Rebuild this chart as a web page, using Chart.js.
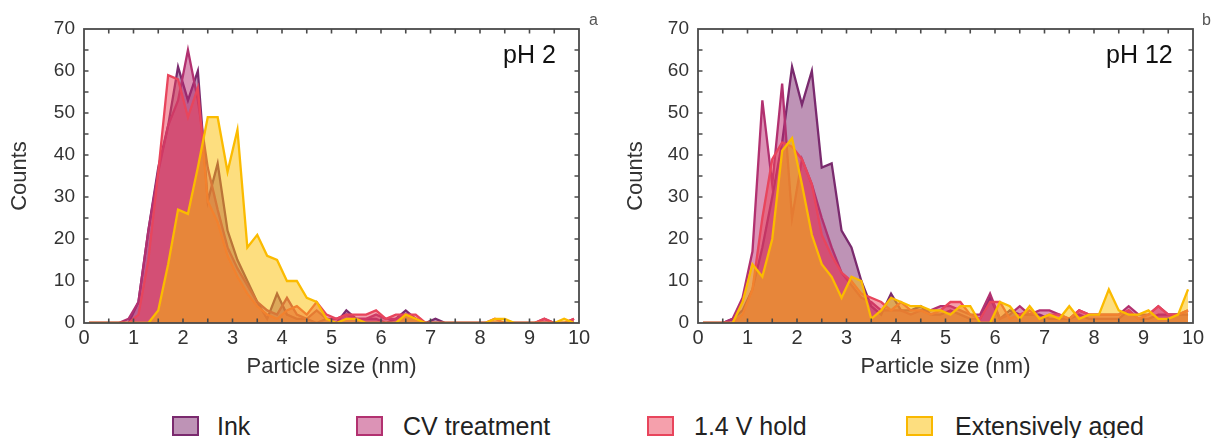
<!DOCTYPE html>
<html>
<head>
<meta charset="utf-8">
<script src="https://cdn.jsdelivr.net/npm/chart.js@4/dist/chart.umd.min.js"></script>
<style>
  html, body { margin: 0; padding: 0; background: #fff; width: 1211px; height: 438px; overflow: hidden; }
  body { position: relative; font-family: 'Liberation Sans', Arial, sans-serif; color: #2b2b2b; }
  .cv { position: absolute; top: 0; }
  .lbl { position: absolute; white-space: nowrap; line-height: 1; }
  .sw { position: absolute; top: 416px; width: 27px; height: 20px; box-sizing: border-box; border: 2px solid; }
  .lt { position: absolute; top: 414px; font-size: 25px; line-height: 1; white-space: nowrap; color: #222; }
</style>
</head>
<body>
<div class="cv" style="left:0;width:600px;height:390px;"><canvas id="cA" width="600" height="390"></canvas></div>
<div class="cv" style="left:614px;width:597px;height:390px;"><canvas id="cB" width="597" height="390"></canvas></div>

<div class="lbl" style="left:503px;top:42px;font-size:25px;color:#111;">pH 2</div>
<div class="lbl" style="left:1106px;top:42px;font-size:25px;color:#111;">pH 12</div>
<div class="lbl" style="left:589px;top:12px;font-size:16px;color:#555;">a</div>
<div class="lbl" style="left:1202px;top:12px;font-size:16px;color:#555;">b</div>

<div class="sw" style="left:172px;background:rgba(125,40,110,0.5);border-color:#7a2a6e;"></div>
<div class="lt" style="left:217px;">Ink</div>
<div class="sw" style="left:356px;background:rgba(185,40,110,0.5);border-color:#b23170;"></div>
<div class="lt" style="left:403px;">CV treatment</div>
<div class="sw" style="left:647px;background:rgba(235,65,90,0.5);border-color:#e8455c;"></div>
<div class="lt" style="left:694px;">1.4 V hold</div>
<div class="sw" style="left:906px;background:rgba(252,190,0,0.5);border-color:#f9b800;"></div>
<div class="lt" style="left:955px;">Extensively aged</div>

<script>
// Bin centres (nm)
const sizes = [0.1,0.3,0.5,0.7,0.9,1.1,1.3,1.5,1.7,1.9,2.1,2.3,2.5,2.7,2.9,3.1,3.3,3.5,3.7,3.9,
               4.1,4.3,4.5,4.7,4.9,5.1,5.3,5.5,5.7,5.9,6.1,6.3,6.5,6.7,6.9,7.1,7.3,7.5,7.7,7.9,
               8.1,8.3,8.5,8.7,8.9,9.1,9.3,9.5,9.7,9.9];

// pH 2 (panel a)
const inkA = [0,0,0,0,0,5,22,37,47,61,53,60,29,38,22,15,10,5,1,7,
              2,1,1,0,1,0,3,1,1,1,0,1,3,1,0,1,0,0,0,0,
              0,0,0,0,0,0,0,0,0,0];
const cvA  = [0,0,0,0,1,5,22,36,47,53,65,53,37,27,18,13,9,5,3,2,
              6,2,1,3,1,1,2,1,1,2,1,1,2,1,0,0,0,0,0,0,
              0,0,0,0,0,0,1,0,0,1];
const holdA = [0,0,0,0,0,2,15,36,59,58,49,56,29,24,16,11,7,4,2,1,
               3,4,2,5,2,1,2,2,2,3,1,2,2,2,0,0,0,0,0,0,
               0,1,0,0,0,0,1,0,0,1];
const agedA = [0,0,0,0,0,0,0,3,14,27,26,37,49,49,36,46,18,21,16,15,
               10,10,6,5,1,0,1,1,0,0,0,0,2,1,0,0,0,0,0,0,
               0,1,1,0,0,0,0,0,1,0];

// pH 12 (panel b)
const inkB = [0,0,0,1,3,8,18,30,43,61,52,60,37,38,22,18,10,4,2,7,
              3,3,4,2,2,3,2,1,1,6,1,3,2,2,2,1,1,1,2,1,
              1,1,1,3,1,1,2,2,2,2];
const cvB  = [0,0,0,1,6,17,53,33,57,25,39,33,25,18,12,9,6,5,3,3,
              3,2,3,3,4,4,3,2,2,7,1,2,4,2,3,3,2,1,3,2,
              2,2,2,4,2,2,4,2,2,3];
const holdB = [0,0,0,0,2,8,25,39,43,42,39,33,21,16,12,10,7,6,5,3,
               5,3,3,2,3,5,5,2,1,5,5,1,2,3,1,2,2,1,3,2,
               2,2,2,3,1,2,4,2,2,3];
const agedB = [0,0,0,0,5,14,11,20,41,44,33,21,14,11,6,11,10,1,3,6,
               5,4,4,3,3,2,4,4,0,0,5,4,1,4,1,2,1,4,1,2,
               2,8,3,2,2,3,1,1,2,8];

const seriesNames = ['Ink', 'CV treatment', '1.4 V hold', 'Extensively aged'];
const xTickLabels = [0,1,2,3,4,5,6,7,8,9,10];
const yTickLabels = [0,10,20,30,40,50,60,70];
const xMinor = [0.5,1,1.5,2,2.5,3,3.5,4,4.5,5,5.5,6,6.5,7,7.5,8,8.5,9,9.5];
const yMinor = [5,10,15,20,25,30,35,40,45,50,55,60,65];

const borderCols = ['#7a2a6e', '#b23170', '#e8455c', '#fbbb00'];
const fillCols = ['rgba(125,40,110,0.5)', 'rgba(185,40,110,0.5)', 'rgba(235,65,90,0.5)', 'rgba(252,190,0,0.5)'];
const FONT = "'Liberation Sans', Arial, sans-serif";

const framePlugin = {
  id: 'frame',
  afterDatasetsDraw(chart) {
    const { ctx, chartArea: a, scales: { x, y } } = chart;
    ctx.save();
    ctx.strokeStyle = '#4a4a4a';
    ctx.lineWidth = 1.6;
    ctx.beginPath();
    xMinor.forEach(v => {
      const p = x.getPixelForValue(v);
      ctx.moveTo(p, a.bottom); ctx.lineTo(p, a.bottom - 4.5);
      ctx.moveTo(p, a.top); ctx.lineTo(p, a.top + 4.5);
    });
    yMinor.forEach(v => {
      const p = y.getPixelForValue(v);
      ctx.moveTo(a.left, p); ctx.lineTo(a.left + 4.5, p);
      ctx.moveTo(a.right, p); ctx.lineTo(a.right - 4.5, p);
    });
    ctx.stroke();
    ctx.lineWidth = 1.8;
    ctx.strokeRect(a.left, a.top, a.right - a.left, a.bottom - a.top);
    ctx.restore();
  }
};

function makeChart(id, values, padTitle, padRight) {
  const datasets = values.map((vals, i) => ({
    label: seriesNames[i],
    data: sizes.map((s, k) => ({ x: s, y: vals[k] })),
    borderColor: borderCols[i],
    backgroundColor: fillCols[i],
    borderWidth: 2.3,
    fill: 'origin',
    pointRadius: 0,
    tension: 0,
    order: 3 - i
  }));
  return new Chart(document.getElementById(id), {
    type: 'line',
    data: { datasets },
    plugins: [framePlugin],
    options: {
      responsive: false,
      animation: false,
      events: [],
      layout: { padding: { top: 29, right: padRight, left: 0, bottom: 0 } },
      plugins: {
        legend: { display: false },
        tooltip: { enabled: false },
        filler: { drawTime: 'beforeDatasetDraw' }
      },
      scales: {
        x: {
          type: 'linear', min: 0, max: 10,
          afterBuildTicks: s => { s.ticks = xTickLabels.map(v => ({ value: v })); },
          afterFit: s => { s.height = 67; },
          grid: { display: false, drawTicks: false },
          border: { display: false },
          ticks: { color: '#333', font: { family: FONT, size: 20 }, padding: 3, maxRotation: 0 },
          title: { display: true, text: 'Particle size (nm)', color: '#333', font: { family: FONT, size: 22 }, padding: { top: 0, bottom: 10 } }
        },
        y: {
          type: 'linear', min: 0, max: 70,
          afterBuildTicks: s => { s.ticks = yTickLabels.map(v => ({ value: v })); },
          afterFit: s => { s.width = 84; },
          grid: { display: false, drawTicks: false },
          border: { display: false },
          ticks: { color: '#333', font: { family: FONT, size: 19 }, padding: 9 },
          title: { display: true, text: 'Counts', color: '#333', font: { family: FONT, size: 22 }, padding: { top: padTitle, bottom: 0 } }
        }
      }
    }
  });
}

makeChart('cA', [inkA, cvA, holdA, agedA], 7, 21);
makeChart('cB', [inkB, cvB, holdB, agedB], 9, 18);
</script>
</body>
</html>
